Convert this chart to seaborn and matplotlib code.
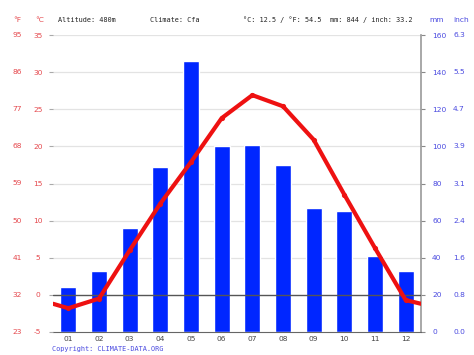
import pandas as pd
import numpy as np
import seaborn as sns
import matplotlib.pyplot as plt
import matplotlib.transforms as mtransforms

# =========================
# Data
# =========================
months = ["01", "02", "03", "04", "05", "06", "07", "08", "09", "10", "11", "12"]
precip_mm = [24, 33, 56, 89, 146, 100, 101, 90, 67, 65, 41, 33]
temp_c = [-1.8, -0.5, 6.0, 12.3, 17.9, 23.8, 26.9, 25.4, 20.9, 13.5, 6.3, -0.7]
edge_temp_c = -1.2  # where the line meets the left / right frame

c_ticks = [-5, 0, 5, 10, 15, 20, 25, 30, 35]
mm_ticks = [0, 20, 40, 60, 80, 100, 120, 140, 160]

header_left = ["Altitude: 480m", "Climate: Cfa"]
header_right = ["°C: 12.5 / °F: 54.5", "mm: 844 / inch: 33.2"]

# =========================
# Colours / fonts
# =========================
BAR = "#0026ff"
LINE = "#ee1111"
RED_TXT = "#e5484d"
BLUE_TXT = "#4a4ae0"
MONO = "DejaVu Sans Mono"
FS = 5.4
FS_MONO = 4.95

sns.set_style("white")
plt.rcParams["font.family"] = ["DejaVu Sans"]

fig = plt.figure(figsize=(4.74, 3.55), dpi=100)
W, H = 474, 355
x0, x1, ytop, ybot = 53, 421, 35, 332
ax = fig.add_axes([x0 / W, 1 - ybot / H, (x1 - x0) / W, (ybot - ytop) / H])
ax_t = ax.twinx()

# =========================
# Bars (precipitation, mm)
# =========================
df_bar = pd.DataFrame({"month": months, "mm": precip_mm})
for m in mm_ticks[2:]:
    ax.axhline(m, color="#e3e3e3", lw=0.9, zorder=0)
sns.barplot(data=df_bar, x="month", y="mm", color=BAR, width=0.52,
            saturation=1, ax=ax, zorder=2)
ax.set_ylim(0, 160)
ax.set_xlim(-0.5, 11.5)
ax.set_xlabel("")
ax.set_ylabel("")

ax.yaxis.tick_right()
ax.set_yticks(mm_ticks)
ax.set_yticklabels([str(m) for m in mm_ticks], color=BLUE_TXT, fontsize=FS)
ax.tick_params(axis="y", direction="out", length=3, width=0.8,
               color="#888888", pad=5)
for lab in ax.get_yticklabels():
    lab.set_horizontalalignment("left")

ax.set_xticks(range(12))
ax.set_xticklabels(months, fontsize=FS, color="#444444")
ax.set_xticks(np.arange(-0.5, 12, 1), minor=True)
ax.tick_params(axis="x", which="major", length=0, pad=3)
ax.tick_params(axis="x", which="minor", length=2.5, width=0.8,
               color="#666666", direction="out")

for side in ["top", "left"]:
    ax.spines[side].set_visible(False)
ax.spines["right"].set_color("#999999")
ax.spines["right"].set_linewidth(1.2)
ax.spines["bottom"].set_color("#666666")
ax.spines["bottom"].set_linewidth(0.8)

# inch labels on the far right
trans_r = mtransforms.blended_transform_factory(ax.transAxes, ax.transData)
for m in mm_ticks:
    ax.text(1.087, m, f"{m / 25.4:.1f}", transform=trans_r, ha="left",
            va="center", fontsize=FS, color=BLUE_TXT)

# =========================
# Temperature line (°C)
# =========================
ax_t.set_ylim(-5, 35)
ax_t.axhline(0, color="#555555", lw=1.0, zorder=1)

line_x = [-0.5] + list(range(12)) + [11.5]
line_y = [edge_temp_c] + temp_c + [edge_temp_c]
df_line = pd.DataFrame({"x": line_x, "t": line_y})
sns.lineplot(data=df_line, x="x", y="t", sort=False, color=LINE, lw=3.0,
             ax=ax_t, zorder=3)
df_pts = pd.DataFrame({"x": range(12), "t": temp_c})
sns.scatterplot(data=df_pts, x="x", y="t", color=LINE, s=14,
                linewidth=0, ax=ax_t, zorder=4)
ax_t.set_xlim(-0.5, 11.5)
ax_t.set_xlabel("")
ax_t.set_ylabel("")

ax_t.yaxis.tick_left()
ax_t.set_yticks(c_ticks)
ax_t.set_yticklabels([str(c) for c in c_ticks], color=RED_TXT, fontsize=FS)
ax_t.tick_params(axis="y", direction="out", length=3, width=0.8,
                 color="#aaaaaa", pad=8)
for lab in ax_t.get_yticklabels():
    lab.set_horizontalalignment("center")
for sp in ax_t.spines.values():
    sp.set_visible(False)

# °F labels
trans_l = mtransforms.blended_transform_factory(ax_t.transAxes, ax_t.transData)
for c in c_ticks:
    ax_t.text(-0.098, c, f"{round(c * 9 / 5 + 32)}", transform=trans_l,
              ha="center", va="center", fontsize=FS, color=RED_TXT)

# =========================
# Header / footer text
# =========================
hy = 1 - 20 / H
fig.text(17 / W, hy, "°F", ha="center", va="center", fontsize=FS, color=RED_TXT)
fig.text(40 / W, hy, "°C", ha="center", va="center", fontsize=FS, color=RED_TXT)
fig.text(58 / W, hy, header_left[0], ha="left", va="center", fontsize=FS_MONO,
         family=MONO, color="#222222")
fig.text(150 / W, hy, header_left[1], ha="left", va="center", fontsize=FS_MONO,
         family=MONO, color="#222222")
fig.text(243 / W, hy, header_right[0], ha="left", va="center", fontsize=FS_MONO,
         family=MONO, color="#222222")
fig.text(330 / W, hy, header_right[1], ha="left", va="center", fontsize=FS_MONO,
         family=MONO, color="#222222")
fig.text(429 / W, hy, "mm", ha="left", va="center", fontsize=FS, color=BLUE_TXT)
fig.text(453 / W, hy, "inch", ha="left", va="center", fontsize=FS, color=BLUE_TXT)
fig.text(52 / W, 1 - 349 / H, "Copyright: CLIMATE-DATA.ORG", ha="left",
         va="center", fontsize=FS_MONO, family=MONO, color=BLUE_TXT)

plt.savefig("out.png", dpi=100)
plt.close()
